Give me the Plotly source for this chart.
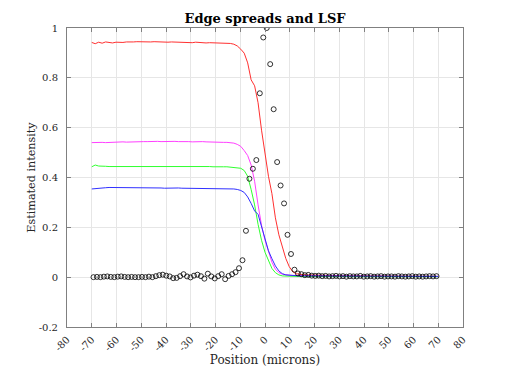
import numpy as np
import plotly.graph_objects as go

# Sample grids (microns)
x_esf = np.linspace(-70, 70, 101)
x_lsf = np.linspace(-69.3, 69.3, 100)

esf_red = [0.942,0.937,0.943,0.939,0.944,0.941,0.940,0.943,0.941,0.942,0.944,0.943,0.944,0.945,0.944,0.944,0.943,0.944,0.945,0.944,
           0.943,0.944,0.943,0.944,0.943,0.942,0.944,0.943,0.942,0.941,0.943,0.941,0.942,0.940,0.941,0.941,0.940,0.940,0.939,
           0.940,0.938,0.935,0.928,0.915,0.899,0.860,0.792,0.768,0.700,0.590,0.490,0.405,0.335,0.238,0.170,0.117,0.075,0.042,0.022,0.014,0.011,
           0.010,0.009,0.009,0.008,0.008,0.007,0.007,0.007,0.006,0.006,0.006,0.006,0.005,0.006,0.005,0.005,0.005,0.005,0.005,0.004,
           0.005,0.004,0.004,0.005,0.004,0.004,0.004,0.004,0.004,0.004,0.004,0.004,0.003,0.004,0.004,0.003,0.004,0.003,0.003,0.003]

esf_magenta = [0.540,0.541,0.539,0.541,0.540,0.541,0.542,0.541,0.542,0.543,0.542,0.543,0.543,0.544,0.543,0.544,0.544,0.545,0.544,0.545,
               0.544,0.545,0.545,0.544,0.545,0.544,0.545,0.544,0.544,0.543,0.544,0.543,0.544,0.543,0.542,0.543,0.542,0.542,0.541,0.541,0.540,
               0.538,0.533,0.525,0.508,0.488,0.450,0.385,0.290,0.208,0.148,0.100,0.060,0.032,0.018,0.012,0.009,
               0.008,0.007,0.007,0.006,0.006,0.006,0.005,0.005,0.005,0.005,0.005,0.005,0.004,0.005,0.004,0.004,0.005,0.004,0.004,0.004,
               0.004,0.004,0.004,0.003,0.004,0.004,0.003,0.004,0.003,0.003,0.004,0.003,0.003,0.003,0.003,0.003,0.003,0.003,0.003,0.002,
               0.003,0.003,0.002,0.003]

esf_green = [0.443,0.450,0.446,0.444,0.445,0.444,0.444,0.445,0.444,0.445,0.444,0.445,0.445,0.444,0.445,0.445,0.446,0.445,0.445,0.446,
             0.445,0.446,0.447,0.446,0.446,0.445,0.446,0.445,0.445,0.444,0.445,0.444,0.445,0.444,0.444,0.443,0.444,0.443,0.443,0.443,0.442,0.442,
             0.441,0.437,0.428,0.405,0.352,0.290,0.212,0.148,0.100,0.065,0.035,0.018,0.009,0.005,
             0.004,0.003,0.003,0.003,0.003,0.002,0.003,0.002,0.002,0.002,0.002,0.003,0.002,0.002,0.002,0.002,0.003,0.002,0.002,0.002,
             0.002,0.002,0.002,0.002,0.003,0.002,0.002,0.002,0.002,0.002,0.002,0.002,0.002,0.002,0.002,0.002,0.002,0.002,0.002,0.002,
             0.002,0.002,0.002,0.002,0.002]

esf_blue = [0.354,0.356,0.357,0.358,0.359,0.360,0.360,0.361,0.360,0.360,0.359,0.360,0.359,0.359,0.358,0.359,0.358,0.358,0.359,0.358,
            0.358,0.357,0.358,0.357,0.357,0.358,0.357,0.357,0.356,0.357,0.356,0.357,0.356,0.356,0.356,0.356,0.357,0.356,0.356,0.355,0.355,0.354,
            0.352,0.348,0.340,0.322,0.296,0.266,0.252,0.200,0.148,0.106,0.074,0.045,0.025,0.014,0.009,
            0.007,0.006,0.006,0.005,0.005,0.005,0.005,0.004,0.004,0.004,0.004,0.004,0.004,0.004,0.004,0.003,0.004,0.003,0.003,0.003,
            0.003,0.003,0.003,0.003,0.003,0.003,0.003,0.003,0.003,0.003,0.003,0.003,0.003,0.003,0.003,0.003,0.003,0.003,0.003,0.003,
            0.003,0.003,0.003,0.003]

lsf = [0.000,0.001,0.000,0.002,0.003,0.001,0.000,0.002,0.003,0.001,0.000,0.001,0.000,0.000,0.001,0.000,0.002,0.000,0.004,0.008,
       0.010,0.006,0.003,-0.004,-0.003,0.004,0.012,0.003,-0.001,0.006,0.010,0.004,-0.006,0.014,0.003,-0.005,0.004,0.012,-0.008,0.005,
       0.012,0.020,0.036,0.068,0.186,0.395,0.435,0.470,0.738,0.962,1.000,0.855,0.674,0.462,0.368,0.296,0.170,0.093,0.030,0.015,
       0.012,0.008,0.009,0.006,0.005,0.006,0.004,0.005,0.003,0.004,0.005,0.003,0.004,0.002,0.004,0.003,0.003,0.005,0.002,0.003,
       0.004,0.002,0.003,0.004,0.002,0.003,0.003,0.002,0.004,0.003,0.002,0.003,0.004,0.002,0.003,0.002,0.003,0.004,0.003,0.004]

x_ticks = [-80, -70, -60, -50, -40, -30, -20, -10, 0, 10, 20, 30, 40, 50, 60, 70, 80]
x_ticktext = ["-80", "-70", "-60", "-50", "-40", "-30", "-20", "-10", "0", "10", "20", "30", "40", "50", "60", "70", "80"]
y_ticks = [-0.2, 0, 0.2, 0.4, 0.6, 0.8, 1]
y_ticktext = ["-0.2", "0", "0.2", "0.4", "0.6", "0.8", "1"]

FONT = "DejaVu Serif"

fig = go.Figure()
for yv, col in [(esf_red, "#ff3030"), (esf_magenta, "#ff40ff"), (esf_green, "#30ff30"), (esf_blue, "#3030ff")]:
    fig.add_trace(go.Scatter(x=x_esf, y=yv, mode="lines", line=dict(color=col, width=1), showlegend=False))
fig.add_trace(go.Scatter(x=x_lsf, y=lsf, mode="markers",
                         marker=dict(symbol="circle-open", size=5, color="black", line=dict(width=0.8)),
                         showlegend=False))

axis_common = dict(showline=True, linecolor="#808080", linewidth=1, mirror="ticks",
                   ticks="inside", ticklen=4, tickcolor="#808080", automargin=False,
                   showgrid=True, gridcolor="#e6e6e6", gridwidth=1, zeroline=False,
                   tickfont=dict(family=FONT, size=10, color="#262626"))

fig.update_layout(
    width=512, height=369,
    margin=dict(l=67, r=49, t=28, b=42, autoexpand=False),
    paper_bgcolor="white", plot_bgcolor="white",
    title=dict(text="<b>Edge spreads and LSF</b>", x=0.5, xanchor="center", xref="paper",
               yref="container", y=1 - 18 / 369, yanchor="middle",
               font=dict(family=FONT, size=13, color="black")),
    xaxis=dict(range=[-80, 80], tickvals=x_ticks, ticktext=x_ticktext, tickangle=-45,
               ticklabelstandoff=2,
               title=dict(text="Position (microns)", font=dict(family=FONT, size=12, color="#262626"), standoff=0),
               **axis_common),
    yaxis=dict(range=[-0.2, 1], tickvals=y_ticks, ticktext=y_ticktext, ticklabelstandoff=6,
               title=dict(text="Estimated intensity", font=dict(family=FONT, size=11.2, color="#262626"), standoff=0),
               **axis_common),
)

fig.write_html("out.html", config={"displayModeBar": False},
               post_script="document.body.style.margin='0';document.body.style.padding='0';")
